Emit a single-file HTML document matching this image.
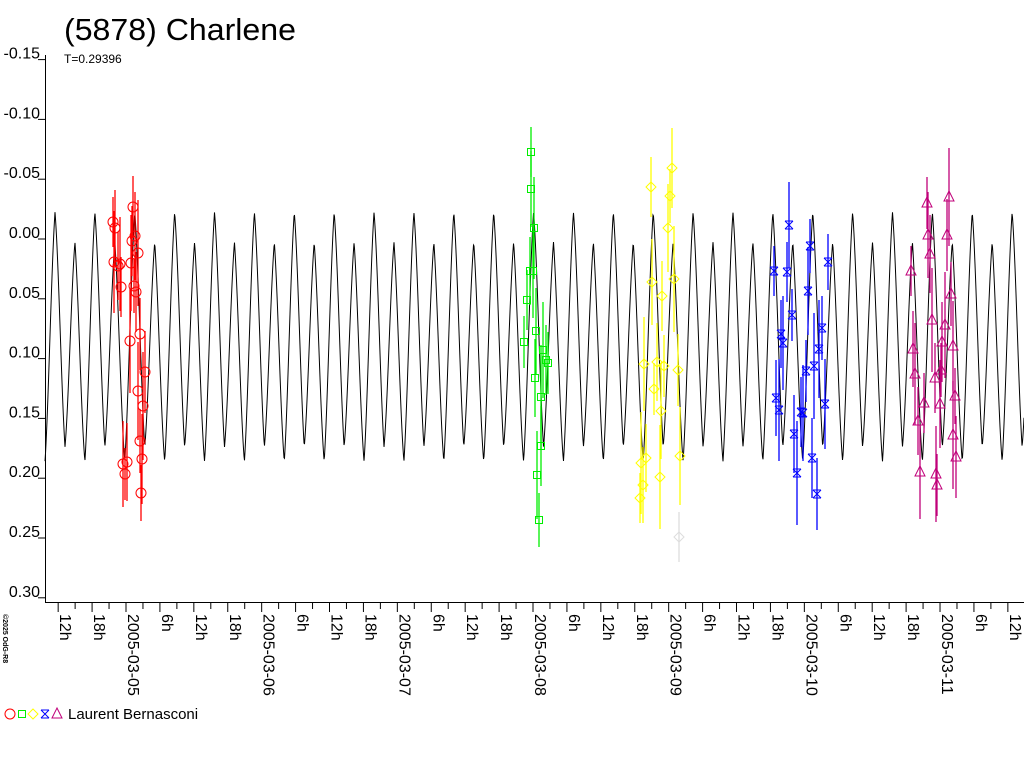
<!DOCTYPE html>
<html><head><meta charset="utf-8"><style>
body{margin:0;background:#fff;width:1024px;height:768px;overflow:hidden;font-family:"Liberation Sans",sans-serif}
</style></head><body>
<svg id="s" width="1024" height="768" xmlns="http://www.w3.org/2000/svg" font-family="Liberation Sans, sans-serif">
<text x="64" y="40" font-size="31" textLength="232" lengthAdjust="spacingAndGlyphs">(5878) Charlene</text>
<text x="64" y="63" font-size="12">T=0.29396</text>
<text x="68" y="719" font-size="15">Laurent Bernasconi</text>
<text transform="translate(3,614) rotate(90)" font-size="7" font-weight="bold">©2025 OdG-R8</text>
<g id="g"></g>
</svg>
<script>
const g=document.getElementById('g');let h='';
const Y=v=>239+v*1196;
h+='<line x1="45.5" y1="55" x2="45.5" y2="602" stroke="#000"/>';
[-0.15,-0.10,-0.05,0,0.05,0.10,0.15,0.20,0.25,0.30].forEach(v=>{const y=Y(v);
h+=`<line x1="38" y1="${y}" x2="45" y2="${y}" stroke="#000"/>`;
h+=`<text x="40" y="${y-1}" font-size="16" text-anchor="end">${v.toFixed(2)}</text>`;});
h+='<line x1="45" y1="602.5" x2="1024" y2="602.5" stroke="#000"/>';
const d=135.67,x0=126;
for(let k=-8;k<=60;k++){const x=x0+k*d/8;if(x<45||x>1024)continue;const maj=k%2==0;
h+=`<line x1="${x}" y1="602" x2="${x}" y2="${maj?612:609}" stroke="#000"/>`;
if(maj){const hr=((k%8)+8)%8*3;let lab;if(hr==0){const day=5+Math.round(k/8);lab='2005-03-'+String(day).padStart(2,'0');}else lab=hr+'h';
h+=`<text transform="translate(${x+2},614) rotate(90)" font-size="16">${lab}</text>`;}}
let p='';for(let x=45;x<=1024;x+=0.5){const t=2*Math.PI*(x-55)/39.88;
const c2=Math.cos(2*t);const tri=(2/Math.PI)*Math.asin(c2);const sh=0.6*tri+0.4*c2;
const v=0.085-0.095*sh-0.0125*Math.cos(t)-0.006*Math.sin(t);p+=(p?'L':'M')+x+' '+Y(v).toFixed(1);}
h+=`<path d="${p}" fill="none" stroke="#000" stroke-width="1"/>`;
function mk(type,c,x,y){
if(type=='o')return `<circle cx="${x}" cy="${y}" r="5" fill="none" stroke="${c}"/>`;
if(type=='s')return `<rect x="${x-3.5}" y="${y-3.5}" width="7" height="7" fill="none" stroke="${c}"/>`;
if(type=='d')return `<path d="M${x} ${y-5}L${x+5} ${y}L${x} ${y+5}L${x-5} ${y}Z" fill="none" stroke="${c}"/>`;
if(type=='x')return `<path d="M${x-4} ${y-4}L${x+4} ${y+4}M${x+4} ${y-4}L${x-4} ${y+4}M${x-4} ${y-4}H${x+4}M${x-4} ${y+4}H${x+4}" fill="none" stroke="${c}"/>`;
return `<path d="M${x} ${y-6}L${x+5} ${y+4}L${x-5} ${y+4}Z" fill="none" stroke="${c}"/>`;}
function ser(type,c,pts){pts.forEach((q,i)=>{const e=25+(i*13)%30;
h+=`<line x1="${q[0]}" y1="${q[1]-e}" x2="${q[0]}" y2="${q[1]+e}" stroke="${c}" stroke-width="1.3"/>`;});
pts.forEach(q=>h+=mk(type,c,q[0],q[1]));}
ser('o','#f00',[[113,222],[115,228],[114,262],[118,266],[120,264],[121,287],[123,464],[125,474],[127,462],[130,341],[132,241],[131,263],[133,207],[135,236],[134,286],[136,292],[138,253],[140,334],[138,391],[140,441],[142,459],[141,493],[145,372],[143,406]]);
ser('s','#0e0',[[531,152],[531,189],[534,228],[530,271],[533,271],[527,300],[536,331],[524,342],[535,378],[541,397],[546,360],[543,350],[548,363],[537,475],[539,520],[541,446]]);
ser('d','#ff0',[[640,498],[643,485],[641,463],[646,458],[644,364],[651,187],[652,282],[654,389],[657,362],[660,477],[662,296],[661,411],[664,366],[668,228],[670,196],[672,168],[674,279],[678,370],[680,456]]);
ser('d','#ddd',[[679,537]]);
ser('x','#00f',[[774,271],[776,398],[779,410],[781,334],[783,343],[787,272],[789,225],[792,315],[794,434],[797,473],[801,412],[803,413],[806,371],[808,291],[810,246],[812,458],[814,366],[817,494],[819,349],[822,328],[825,404],[828,262]]);
ser('t','#c0007a',[[911,271],[913,349],[915,374],[918,421],[920,472],[924,403],[928,235],[927,203],[930,254],[932,320],[935,378],[936,474],[937,485],[940,404],[941,370],[942,342],[945,325],[947,235],[949,197],[951,294],[953,346],[955,396],[956,457],[953,435]]);
h+=mk('o','#f00',10,714)+mk('s','#0e0',22,714)+mk('d','#ff0',33,714)+mk('x','#00f',45,714)+mk('t','#c0007a',57,714);
g.innerHTML=h;
</script>
</body></html>
